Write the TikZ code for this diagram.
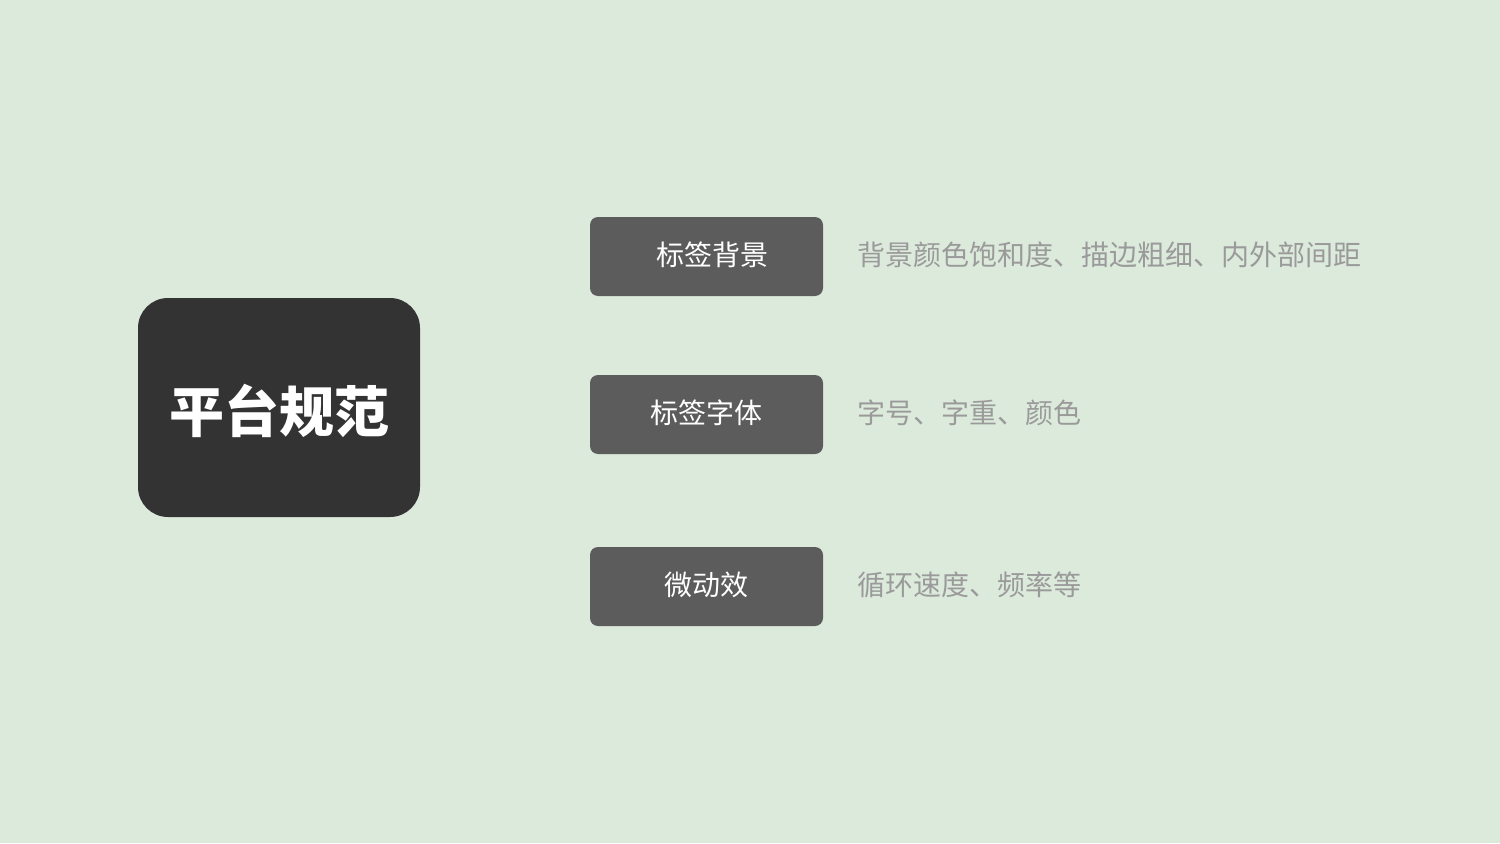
\documentclass[tikz,border=0pt]{standalone}
\usepackage{fontspec}
\usepackage{xcolor}
\usetikzlibrary{positioning}
\newfontfamily\cjk{Noto Sans CJK SC}
\definecolor{bgGreen}{HTML}{DCEADC}
\definecolor{darkBox}{HTML}{333333}
\definecolor{tagBox}{HTML}{5C5C5C}
\definecolor{descGray}{HTML}{9A9A9A}

\begin{document}
\begin{tikzpicture}[x=0.5pt,y=0.5pt,
		tag/.style={fill=tagBox,rounded corners=4pt,minimum width=116.5pt,minimum height=39.5pt,inner sep=0pt,text height=12.3pt,text depth=3.7pt,text=white,font=\cjk\fontsize{14pt}{16pt}\selectfont},
		desc/.style={anchor=west,inner sep=0pt,text=descGray,font=\cjk\fontsize{14pt}{16pt}\selectfont}]
		% Draw background
		\fill[bgGreen] (0,0) rectangle (1500,843);
		% Main box
		\node[fill=darkBox,rounded corners=15pt,minimum width=141pt,minimum height=109.5pt,inner sep=0pt,text height=28.2pt,text depth=3.3pt,text=white,font=\cjk\bfseries\fontsize{27.5pt}{30pt}\selectfont] (main) at (279,435.5) {平台规范};
		% Tags
		\node[tag] (bg) at (706.5,586.5) {\hspace{6pt}标签背景};
		\node[tag] (font) at (706.5,428.5) {标签字体};
		\node[tag] (anim) at (706.5,256.5) {微动效};
		% Descriptions
		\node[desc,right=17pt of bg,yshift=1pt] (bgtxt) {背景颜色饱和度、描边粗细、内外部间距};
		\node[desc,right=17pt of font,yshift=1pt] (fonttxt) {字号、字重、颜色};
		\node[desc,right=17pt of anim,yshift=1pt] (animtxt) {循环速度、频率等};
	\end{tikzpicture}
\end{document}
